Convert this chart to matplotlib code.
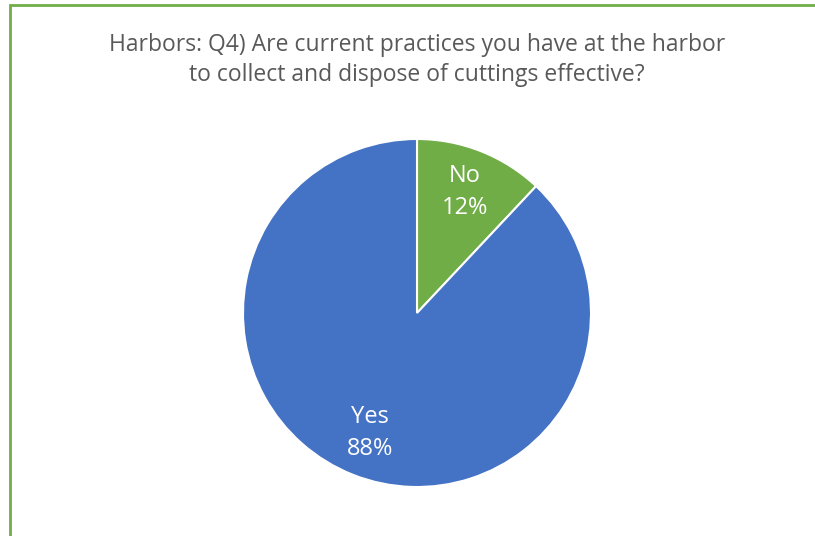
import numpy as np
import matplotlib

matplotlib.use("Agg")
import matplotlib.pyplot as plt
from matplotlib.patches import Rectangle

# Survey answers
categories = ["No", "Yes"]
shares = [12, 88]
colors = ["#70AD47", "#4472C4"]

W, H, DPI = 815, 536, 100
fig = plt.figure(figsize=(W / DPI, H / DPI), dpi=DPI)

# chart-area border (runs off the right and bottom edges)
fig.patches.append(Rectangle((10 / W, -0.05), 1.1, 1 - 5 / H + 0.05,
                             transform=fig.transFigure, fill=False,
                             edgecolor="#70AD47", linewidth=2.0))

fig.text(417 / W, 1 - 45 / H, "Harbors: Q4) Are current practices you have at the harbor",
         ha="center", va="center", fontsize=16.5, color="#595959", family="Open Sans")
fig.text(417 / W, 1 - 75 / H, "to collect and dispose of cuttings effective?",
         ha="center", va="center", fontsize=16.5, color="#595959", family="Open Sans")

cx, cy, r = 417, 313, 174
ax = fig.add_axes([(cx - r) / W, 1 - (cy + r) / H, 2 * r / W, 2 * r / H])
wedges, _ = ax.pie(shares, colors=colors, startangle=90, counterclock=False,
                   radius=1, wedgeprops=dict(edgecolor="white", linewidth=1.5))
ax.set_xlim(-1, 1)
ax.set_ylim(-1, 1)
ax.set_aspect("equal")
ax.axis("off")

label_dist = [0.75, 0.74]
for w, name, pct, d in zip(wedges, categories, shares, label_dist):
    mid = np.deg2rad((w.theta1 + w.theta2) / 2)
    ax.text(d * np.cos(mid), d * np.sin(mid), f"{name}\n{pct}%",
            ha="center", va="center", color="white", fontsize=17,
            family="Open Sans", linespacing=1.45)

fig.savefig("out.png", dpi=DPI)
